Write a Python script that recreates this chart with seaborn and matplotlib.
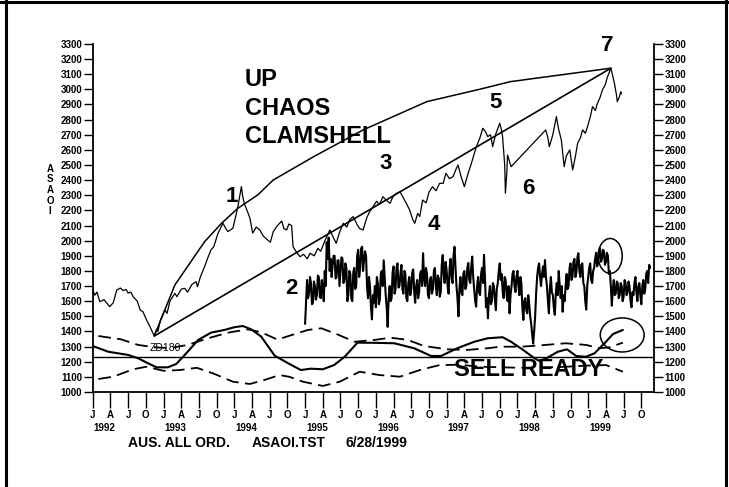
import numpy as np
import pandas as pd
import matplotlib
matplotlib.use("Agg")
import matplotlib.pyplot as plt
import seaborn as sns
from matplotlib.patches import Ellipse
from matplotlib.lines import Line2D

# All Ordinaries close (time in fractional years)
price_t = [1992.00, 1992.03, 1992.06, 1992.10, 1992.16, 1992.24, 1992.29, 1992.34, 1992.39, 1992.43,
           1992.47, 1992.50, 1992.54, 1992.57, 1992.63, 1992.67, 1992.71, 1992.76, 1992.79, 1992.82,
           1992.87, 1992.90, 1992.92, 1992.96, 1993.02, 1993.05, 1993.09, 1993.16, 1993.19, 1993.25,
           1993.30, 1993.34, 1993.40, 1993.46, 1993.48, 1993.52, 1993.58, 1993.62, 1993.67, 1993.71,
           1993.77, 1993.84, 1993.88, 1993.91, 1993.98, 1994.03, 1994.06, 1994.10, 1994.12, 1994.14,
           1994.18, 1994.22, 1994.26, 1994.31, 1994.36, 1994.41, 1994.47, 1994.51, 1994.55, 1994.61,
           1994.67, 1994.70, 1994.74, 1994.77, 1994.81, 1994.83, 1994.87, 1994.93, 1994.98, 1995.03,
           1995.07, 1995.13, 1995.18, 1995.22, 1995.29, 1995.35, 1995.39, 1995.44, 1995.49, 1995.54,
           1995.59, 1995.63, 1995.68, 1995.73, 1995.77, 1995.82, 1995.87, 1995.91, 1995.96, 1996.01,
           1996.05, 1996.10, 1996.14, 1996.20, 1996.24, 1996.28, 1996.34, 1996.38, 1996.43, 1996.48,
           1996.52, 1996.55, 1996.59, 1996.62, 1996.66, 1996.71, 1996.75, 1996.80, 1996.85, 1996.90,
           1996.95, 1996.99, 1997.04, 1997.09, 1997.13, 1997.16, 1997.20, 1997.25, 1997.30, 1997.35,
           1997.38, 1997.42, 1997.47, 1997.51, 1997.55, 1997.58, 1997.62, 1997.65, 1997.69, 1997.75,
           1997.77, 1997.79, 1997.82, 1997.83, 1997.85, 1997.86, 1997.89, 1997.91, 1998.40, 1998.43,
           1998.45, 1998.50, 1998.55, 1998.58, 1998.62, 1998.66, 1998.69, 1998.74, 1998.78, 1998.82,
           1998.85, 1998.89, 1998.92, 1998.96, 1998.99, 1999.03, 1999.06, 1999.10, 1999.13, 1999.17,
           1999.20, 1999.24, 1999.27, 1999.32, 1999.34, 1999.37, 1999.40, 1999.41, 1999.44, 1999.46,
           1999.47]
price_v = [1674, 1640, 1660, 1597, 1610, 1564, 1590, 1674, 1687, 1670,
           1678, 1654, 1660, 1630, 1600, 1542, 1530, 1476, 1450, 1420,
           1370, 1414, 1400, 1480, 1542, 1520, 1600, 1652, 1630, 1680,
           1685, 1660, 1710, 1729, 1696, 1760, 1828, 1880, 1939, 1960,
           2049, 2115, 2080, 2060, 2082, 2181, 2250, 2357, 2290, 2247,
           2200, 2150, 2050, 2090, 2071, 2030, 2005, 1990, 2060, 2100,
           2130, 2080, 2071, 2110, 2100, 1960, 1930, 1894, 1910, 1880,
           1917, 1900, 1950, 1930, 2010, 2071, 2030, 1983, 2060, 2115,
           2090, 2140, 2159, 2110, 2080, 2071, 2150, 2190, 2225, 2260,
           2240, 2291, 2270, 2247, 2290, 2310, 2324, 2290, 2247, 2200,
           2140, 2115, 2180, 2160, 2269, 2250, 2320, 2357, 2330, 2379,
           2379, 2445, 2410, 2423, 2470, 2500, 2430, 2357, 2440, 2512,
           2560, 2621, 2680, 2743, 2720, 2688, 2700, 2621, 2700, 2776,
           2740, 2688, 2500, 2313, 2450, 2566, 2520, 2489, 2732, 2680,
           2621, 2700, 2820, 2740, 2666, 2489, 2560, 2600, 2467, 2560,
           2644, 2680, 2732, 2710, 2754, 2820, 2886, 2860, 2908, 2950,
           2996, 3030, 3080, 3140, 3100, 3040, 2960, 2919, 2950, 2985,
           2970]

# clamshell: straight chord and upper curve, low of 1992 to peak 7
chord_t = [1992.87, 1999.32]
chord_v = [1370, 3140]
curve_t = [1992.87, 1993.16, 1993.58, 1993.82, 1994.05, 1994.33, 1994.55, 1995.12,
           1995.82, 1996.72, 1997.47, 1997.90, 1999.32]
curve_v = [1370, 1707, 1993, 2115, 2214, 2302, 2401, 2555, 2732, 2919, 3001, 3051, 3140]

# oscillator, sampled every 1/72 year from 1995.0 (one row = 4 months)
osc_start = 1995.0
osc_step = 1 / 72
osc_v = [1450, 1600, 1740, 1620, 1650, 1760, 1720, 1580, 1590, 1730, 1700, 1610, 1640, 1770, 1760, 1630, 1620, 1740, 1690, 1600, 1800, 1700, 1990, 1880,
         2020, 1800, 1880, 1760, 1840, 1900, 1900, 1750, 1760, 1870, 1870, 1700, 1790, 1890, 1880, 1720, 1740, 1850, 1820, 1600, 1640, 1800, 1780, 1620,
         1600, 1790, 1820, 1680, 1700, 1900, 1940, 1760, 1820, 1950, 1960, 1800, 1870, 1930, 1900, 1700, 1620, 1760, 1700, 1560, 1480, 1640, 1590, 1700,
         1560, 1760, 1720, 1580, 1610, 1780, 1800, 1700, 1870, 1760, 1640, 1560, 1430, 1620, 1700, 1600, 1620, 1790, 1830, 1650, 1680, 1820, 1850, 1690,
         1700, 1780, 1840, 1680, 1650, 1800, 1780, 1620, 1600, 1720, 1760, 1640, 1680, 1790, 1810, 1660, 1590, 1700, 1740, 1620, 1660, 1780, 1800, 1700,
         1917, 1760, 1700, 1820, 1780, 1640, 1620, 1740, 1760, 1650, 1680, 1800, 1820, 1700, 1640, 1770, 1750, 1630, 1660, 1840, 1906, 1780, 1720, 1860,
         1800, 1700, 1650, 1820, 1880, 1760, 1720, 1900, 1960, 1820, 1700, 1620, 1500, 1680, 1760, 1660, 1640, 1780, 1800, 1680, 1700, 1820, 1853, 1740,
         1720, 1830, 1895, 1760, 1680, 1600, 1564, 1700, 1760, 1660, 1640, 1780, 1820, 1720, 1906, 1750, 1560, 1620, 1487, 1640, 1700, 1580, 1600, 1720,
         1700, 1620, 1540, 1680, 1720, 1800, 1850, 1740, 1780, 1660, 1620, 1760, 1740, 1640, 1600, 1700, 1520, 1640, 1700, 1780, 1800, 1700, 1660, 1760,
         1800, 1700, 1640, 1760, 1720, 1560, 1476, 1600, 1620, 1540, 1520, 1640, 1580, 1500, 1450, 1380, 1320, 1400, 1500, 1650, 1760, 1820, 1850, 1760,
         1700, 1780, 1830, 1760, 1872, 1760, 1700, 1600, 1520, 1680, 1760, 1660, 1640, 1560, 1510, 1650, 1720, 1640, 1800, 1700, 1620, 1700, 1530, 1640,
         1600, 1700, 1780, 1680, 1700, 1820, 1850, 1740, 1760, 1860, 1880, 1760, 1790, 1890, 1917, 1800, 1760, 1840, 1850, 1720, 1700, 1600, 1545, 1700,
         1760, 1820, 1850, 1740, 1720, 1800, 1820, 1880, 1920, 1830, 1850, 1930, 1950, 1860, 1880, 1940, 1930, 1840, 1860, 1920, 1900, 1780, 1800, 1700,
         1570, 1680, 1740, 1640, 1650, 1730, 1720, 1620, 1640, 1720, 1700, 1600, 1630, 1740, 1720, 1640, 1660, 1730, 1700, 1600, 1560, 1660, 1640, 1720,
         1760, 1660, 1600, 1700, 1720, 1640, 1580, 1700, 1740, 1650, 1680, 1780, 1800, 1720, 1840, 1820]

# ZD180 and its bands
zd_t = [1992.00, 1992.22, 1992.50, 1992.64, 1992.78, 1992.90, 1993.06, 1993.18, 1993.30, 1993.49,
        1993.67, 1993.86, 1994.00, 1994.12, 1994.24, 1994.38, 1994.57, 1994.76, 1994.94, 1995.08,
        1995.25, 1995.41, 1995.56, 1995.74, 1995.98, 1996.26, 1996.54, 1996.78, 1996.92, 1997.15,
        1997.39, 1997.58, 1997.79, 1997.91, 1998.08, 1998.24, 1998.31, 1998.41, 1998.57, 1998.70,
        1998.83, 1998.97, 1999.09, 1999.23, 1999.35, 1999.49]
zd_v = [1304, 1266, 1245, 1223, 1190, 1163, 1163, 1185, 1245, 1344,
        1392, 1410, 1428, 1436, 1414, 1366, 1240, 1190, 1145, 1154,
        1150, 1178, 1233, 1326, 1325, 1322, 1289, 1238, 1238, 1289,
        1332, 1355, 1362, 1332, 1278, 1223, 1205, 1223, 1266, 1282,
        1238, 1233, 1256, 1322, 1383, 1410]
upper_t = [1992.08, 1992.40, 1992.64, 1992.88, 1993.09, 1993.34, 1993.63, 1993.91, 1994.19, 1994.38,
           1994.61, 1994.80, 1995.04, 1995.23, 1995.46, 1995.70, 1995.98, 1996.21, 1996.45, 1996.68,
           1997.01, 1997.29, 1997.58, 1997.75, 1998.08, 1998.40, 1998.68, 1998.97, 1999.16, 1999.30,
           1999.49]
upper_v = [1370, 1348, 1311, 1295, 1290, 1311, 1355, 1392, 1414, 1395,
           1346, 1375, 1410, 1421, 1380, 1332, 1344, 1359, 1344, 1304,
           1282, 1278, 1289, 1299, 1300, 1311, 1322, 1311, 1289, 1295,
           1326]
lower_t = [1992.08, 1992.29, 1992.57, 1992.76, 1993.00, 1993.23, 1993.47, 1993.70, 1993.98, 1994.22,
           1994.43, 1994.64, 1994.78, 1994.97, 1995.25, 1995.49, 1995.77, 1996.05, 1996.34, 1996.62,
           1996.90, 1997.18, 1997.47, 1998.03, 1998.60, 1999.02, 1999.25, 1999.49]
lower_v = [1086, 1101, 1150, 1167, 1140, 1145, 1160, 1123, 1068, 1053,
           1080, 1112, 1100, 1068, 1040, 1068, 1134, 1112, 1101, 1145,
           1178, 1180, 1167, 1160, 1165, 1175, 1178, 1134]
sell_level = 1230

years = list(range(1992, 2000))
month_letters = ["J", "A", "J", "O"]
wave_labels = ["1", "2", "3", "4", "5", "6", "7"]
wave_t = [1993.97, 1994.81, 1996.14, 1996.82, 1997.69, 1998.16, 1999.27]
wave_v = [2289, 1687, 2507, 2110, 2910, 2342, 3287]

sns.set_style("ticks")
plt.rcParams['font.family'] = ['Liberation Sans', 'DejaVu Sans']
plt.rcParams['font.weight'] = 'bold'
plt.rcParams['text.color'] = 'black'
plt.rcParams['xtick.color'] = 'black'
plt.rcParams['ytick.color'] = 'black'

fig = plt.figure(figsize=(7.29, 4.87), dpi=100)
ax = fig.add_axes([0.1272, 0.1951, 0.7700, 0.7146])

osc_t = osc_start + np.arange(len(osc_v)) * osc_step

dash = (0, (7, 3.5))
sns.lineplot(x=upper_t, y=upper_v, ax=ax, color="black", lw=1.3, linestyle=dash, estimator=None, sort=False)
sns.lineplot(x=lower_t, y=lower_v, ax=ax, color="black", lw=1.3, linestyle=dash, estimator=None, sort=False)
sns.lineplot(x=zd_t, y=zd_v, ax=ax, color="black", lw=1.5, estimator=None, sort=False)
ax.axhline(sell_level, color="black", lw=1.0)
sns.lineplot(x=osc_t, y=osc_v, ax=ax, color="black", lw=1.5, estimator=None, sort=False)
sns.lineplot(x=chord_t, y=chord_v, ax=ax, color="black", lw=1.2, estimator=None, sort=False)
sns.lineplot(x=curve_t, y=curve_v, ax=ax, color="black", lw=1.1, estimator=None, sort=False)
sns.lineplot(x=price_t, y=price_v, ax=ax, color="black", lw=0.9, estimator=None, sort=False)

ax.add_patch(Ellipse((1999.31, 1899), 0.34, 231, fill=False, ec="black", lw=1.1))
ax.add_patch(Ellipse((1999.48, 1377), 0.62, 225, fill=False, ec="black", lw=1.1))

ax.set_xlim(1992.0, 1999.93)
ax.set_ylim(1000, 3300)
ax.set_yticks(range(1000, 3301, 100))
ax.set_xticks([y + q / 4 for y in years for q in range(4)])
ax.set_xticklabels(month_letters * len(years))
ax.tick_params(axis="y", left=True, right=True, labelleft=True, labelright=True,
               length=6.5, width=1, pad=1, labelsize=7, colors="black")
ax.tick_params(axis="x", length=11.5, width=1, pad=1.5, labelsize=7, colors="black")
for yr in years:
    ax.text(yr + 0.17, -0.104, str(yr), transform=ax.get_xaxis_transform(),
            ha="center", va="center", fontsize=7)

ax.spines["top"].set_visible(False)
for s in ["left", "right", "bottom"]:
    ax.spines[s].set_visible(True)
    ax.spines[s].set_linewidth(1.3)
    ax.spines[s].set_color("black")
ax.set_xlabel("")
ax.set_ylabel("")

for lab, t, v in zip(wave_labels, wave_t, wave_v):
    ax.text(t, v, lab, fontsize=16, ha="center", va="center")
for i, word in enumerate(["UP", "CHAOS", "CLAMSHELL"]):
    ax.text(1994.15, [3062, 2874, 2689][i], word, fontsize=17, ha="left", va="center")
ax.text(1997.10, 1147, "SELL READY", fontsize=17, ha="left", va="center")
ax.text(1993.02, 1291, "ZD180", fontsize=7.5, fontweight="normal", ha="center", va="center")

for i, ch in enumerate("ASAOI"):
    fig.text(50 / 729, 1 - (169 + 10.5 * i) / 487, ch, fontsize=7, ha="center", va="center")
fig.text(128 / 729, 1 - 443 / 487, "AUS. ALL ORD.", fontsize=10, ha="left", va="center")
fig.text(252 / 729, 1 - 443 / 487, "ASAOI.TST", fontsize=10, ha="left", va="center")
fig.text(345 / 729, 1 - 443 / 487, "6/28/1999", fontsize=10, ha="left", va="center")

# page border (left, top, right)
bw = 2.2
fig.add_artist(Line2D([5.5 / 729, 5.5 / 729], [0, 1], transform=fig.transFigure, color="black", lw=bw))
fig.add_artist(Line2D([0, 1], [1 - 1.5 / 487, 1 - 1.5 / 487], transform=fig.transFigure, color="black", lw=bw))
fig.add_artist(Line2D([725.5 / 729, 725.5 / 729], [0, 1], transform=fig.transFigure, color="black", lw=bw))

fig.savefig("out.png", dpi=100)
